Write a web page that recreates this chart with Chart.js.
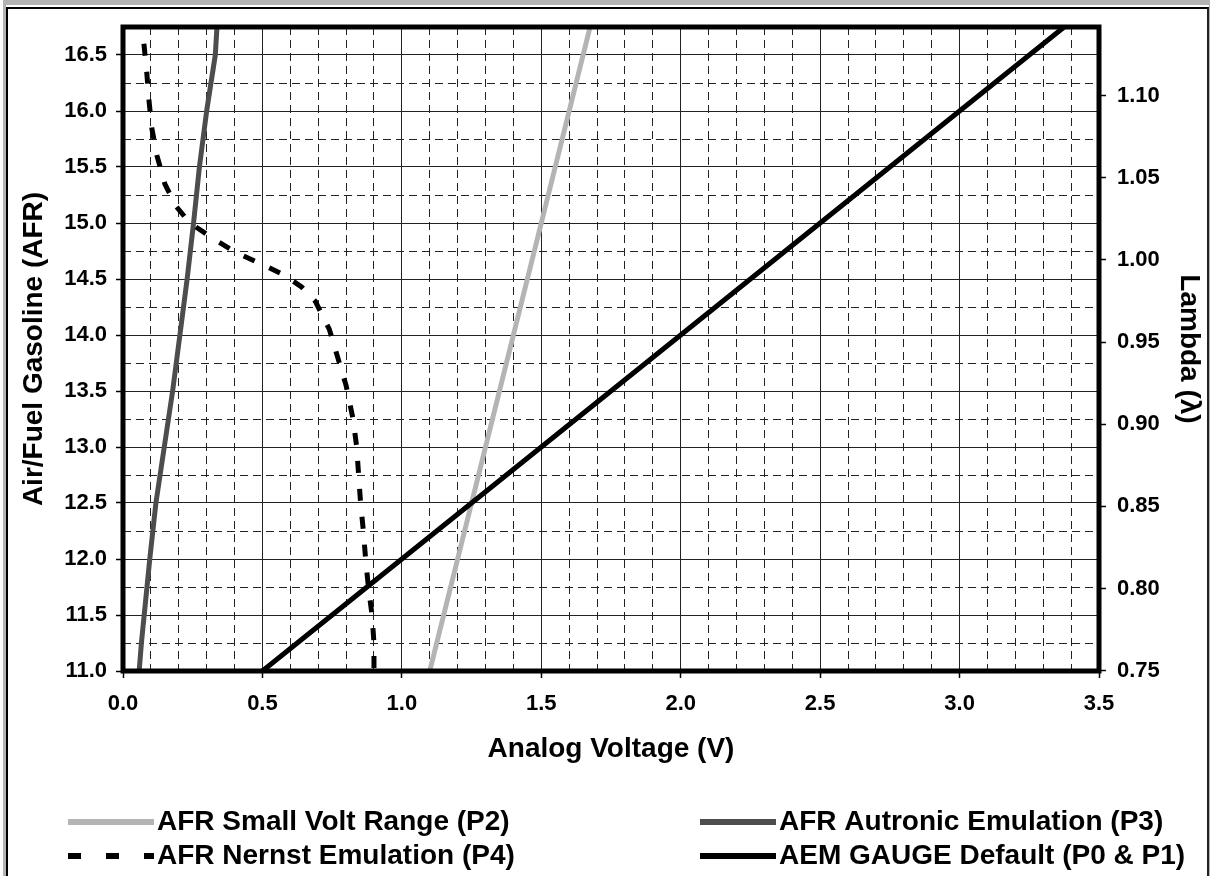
<!DOCTYPE html>
<html>
<head>
<meta charset="utf-8">
<script src="https://cdn.jsdelivr.net/npm/chart.js@4.4.0/dist/chart.umd.min.js"></script>
<style>
  html, body { margin: 0; padding: 0; background: #fff; }
  #wrap { position: relative; width: 1212px; height: 876px; overflow: hidden; }
  #frame {
    position: absolute; left: 3px; top: 0; width: 1207px; height: 920px;
    box-sizing: border-box; pointer-events: none;
    border-top: 5px solid #b4b4b4; border-left: 3px solid #b4b4b4; border-right: 1px solid #b4b4b4;
  }
  #frame::after {
    content: ''; position: absolute; left: 0; top: 2px; right: 0; bottom: 0;
    border-top: 2px solid #000; border-left: 2px solid #000; border-right: 2px solid #222;
  }
</style>
</head>
<body>
<div id="wrap">
  <canvas id="myChart" width="1212" height="876"></canvas>
  <div id="frame"></div>
</div>
<script>
// series: analog voltage (V) -> air/fuel ratio
const SMALL_RANGE_VOLTS = [1.10, 1.20, 1.30, 1.40, 1.50, 1.60, 1.675];
const SMALL_RANGE_AFR   = [11.0, 12.0, 13.0, 14.0, 15.0, 16.0, 16.75];

const AUTRONIC_VOLTS = [0.058, 0.066, 0.076, 0.096, 0.118, 0.148, 0.178, 0.204, 0.230, 0.253, 0.274, 0.300, 0.331, 0.337];
const AUTRONIC_AFR   = [11.0, 11.25, 11.5, 12.0, 12.5, 13.0, 13.5, 14.0, 14.5, 15.0, 15.5, 16.0, 16.5, 16.75];

const NERNST_VOLTS = [0.075, 0.085, 0.093, 0.103, 0.122, 0.150, 0.190, 0.240, 0.330, 0.410, 0.500, 0.575, 0.640, 0.690,
                      0.740, 0.770, 0.800, 0.825, 0.838, 0.845, 0.852, 0.862, 0.870, 0.880, 0.893, 0.900, 0.900];
const NERNST_AFR   = [16.60, 16.35, 16.10, 15.85, 15.60, 15.35, 15.15, 15.00, 14.85, 14.73, 14.63, 14.54, 14.43, 14.30,
                      14.05, 13.80, 13.55, 13.25, 13.00, 12.75, 12.50, 12.25, 12.00, 11.75, 11.50, 11.25, 11.00];

const AEM_VOLTS = [0.5, 1.0, 1.5, 2.0, 2.5, 3.0, 3.375];
const AEM_AFR   = [11.0, 12.0, 13.0, 14.0, 15.0, 16.0, 16.75];

const SERIES_NAMES = ['AFR Small Volt Range (P2)', 'AFR Autronic Emulation (P3)', 'AFR Nernst Emulation (P4)', 'AEM GAUGE Default (P0 & P1)'];

// axes
const X_MIN = 0, X_MAX = 3.5, X_STEP = 0.1;
const AFR_MIN = 11, AFR_MAX = 16.75, AFR_STEP = 0.25;
const STOICH = 14.67;
const LAMBDA_TICKS = [0.75, 0.80, 0.85, 0.90, 0.95, 1.00, 1.05, 1.10];

const FONT = '"Liberation Sans", Arial, sans-serif';
Chart.defaults.font.family = FONT;
Chart.defaults.color = '#000';

function pts(xs, ys) { return xs.map((x, i) => ({ x: x, y: ys[i] })) }
function isMajor(v) { return Math.abs(v * 2 - Math.round(v * 2)) < 1e-6 }

const gridOpts = {
    color: '#222',
    lineWidth: 1,
    tickLength: 7,
    tickWidth: 1.5,
    tickColor: (c) => (c.tick && isMajor(c.tick.value)) ? '#000' : 'rgba(0,0,0,0)'
};
const borderOpts = {
    display: false,
    dash: (c) => (c.tick && isMajor(c.tick.value)) ? [] : [8, 5]
};

// frame round the plot area, over the lines like the original
const frameBox = {
    id: 'frameBox',
    afterDatasetsDraw(chart) {
        const a = chart.chartArea, ctx = chart.ctx;
        ctx.save();
        ctx.strokeStyle = '#000';
        ctx.lineWidth = 5;
        ctx.strokeRect(a.left, a.top, a.right - a.left, a.bottom - a.top);
        ctx.restore();
    }
};

// two-column legend under the x axis title
const legendBox = {
    id: 'legendBox',
    afterDraw(chart) {
        const ctx = chart.ctx;
        const cols = [{ x: 68, len: 86 }, { x: 700, len: 76 }];
        const rows = [822, 856];
        ctx.save();
        ctx.font = 'bold 28px ' + FONT;
        ctx.textBaseline = 'middle';
        ctx.textAlign = 'left';
        chart.data.datasets.forEach((ds, i) => {
            const c = cols[i % 2], y = rows[Math.floor(i / 2)];
            ctx.strokeStyle = ds.borderColor;
            ctx.lineWidth = ds.borderWidth + 1;
            ctx.setLineDash(ds.borderDash ? [13, 25] : []);
            ctx.beginPath();
            ctx.moveTo(c.x, y);
            ctx.lineTo(c.x + c.len, y);
            ctx.stroke();
            ctx.setLineDash([]);
            ctx.fillStyle = '#000';
            ctx.fillText(ds.label, c.x + c.len + 3, y);
        });
        ctx.restore();
    }
};

let ctx = document.getElementById('myChart').getContext('2d');

let chart = new Chart(ctx, {
    type: 'line',
    data: {
        datasets: [{
            label: SERIES_NAMES[0],
            data: pts(SMALL_RANGE_VOLTS, SMALL_RANGE_AFR),
            borderColor: '#b4b4b4',
            borderWidth: 5,
            order: 4
        }, {
            label: SERIES_NAMES[1],
            data: pts(AUTRONIC_VOLTS, AUTRONIC_AFR),
            borderColor: '#4d4d4d',
            borderWidth: 5,
            order: 3
        }, {
            label: SERIES_NAMES[2],
            data: pts(NERNST_VOLTS, NERNST_AFR),
            borderColor: '#000',
            borderWidth: 5,
            borderDash: [12, 16],
            order: 2
        }, {
            label: SERIES_NAMES[3],
            data: pts(AEM_VOLTS, AEM_AFR),
            borderColor: '#000',
            borderWidth: 5,
            order: 1
        }]
    },
    options: {
        responsive: false,
        animation: false,
        layout: { padding: { left: 0, right: 0, top: 27, bottom: 113 } },
        elements: {
            point: { radius: 0 },
            line: { tension: 0, borderCapStyle: 'butt', borderJoinStyle: 'round' }
        },
        plugins: {
            legend: { display: false },
            tooltip: { enabled: false }
        },
        scales: {
            x: {
                type: 'linear',
                min: X_MIN, max: X_MAX,
                grid: gridOpts,
                border: borderOpts,
                ticks: {
                    stepSize: X_STEP,
                    autoSkip: false,
                    maxRotation: 0, minRotation: 0,
                    padding: 13,
                    font: { size: 22, weight: 'bold' },
                    callback: (v) => isMajor(v) ? v.toFixed(1) : ''
                },
                title: {
                    display: true,
                    text: 'Analog Voltage (V)',
                    font: { size: 28, weight: 'bold', lineHeight: 1 },
                    padding: { top: 0, bottom: 0 }
                },
                afterFit: (s) => { s.height = 92 }
            },
            y: {
                type: 'linear',
                position: 'left',
                min: AFR_MIN, max: AFR_MAX,
                grid: gridOpts,
                border: borderOpts,
                ticks: {
                    stepSize: AFR_STEP,
                    autoSkip: false,
                    padding: 9,
                    font: { size: 22, weight: 'bold' },
                    callback: (v) => isMajor(v) ? v.toFixed(1) : ''
                },
                title: {
                    display: true,
                    text: 'Air/Fuel Gasoline (AFR)',
                    font: { size: 28, weight: 'bold', lineHeight: 1 },
                    padding: { top: 20, bottom: 0 }
                },
                afterFit: (s) => { s.width = 123 }
            },
            lambda: {
                type: 'linear',
                position: 'right',
                min: AFR_MIN / STOICH, max: AFR_MAX / STOICH,
                afterBuildTicks: (s) => { s.ticks = LAMBDA_TICKS.map(v => ({ value: v })) },
                grid: { drawOnChartArea: false, tickLength: 7, tickWidth: 1.5, tickColor: '#000' },
                border: { display: false },
                ticks: {
                    padding: 11,
                    font: { size: 22, weight: 'bold' },
                    callback: (v) => v.toFixed(2)
                },
                title: {
                    display: true,
                    text: 'Lambda (λ)',
                    font: { size: 28, weight: 'bold', lineHeight: 1 },
                    padding: { top: 9, bottom: 0 }
                },
                afterFit: (s) => { s.width = 113 }
            }
        }
    },
    plugins: [frameBox, legendBox]
});
</script>
</body>
</html>
